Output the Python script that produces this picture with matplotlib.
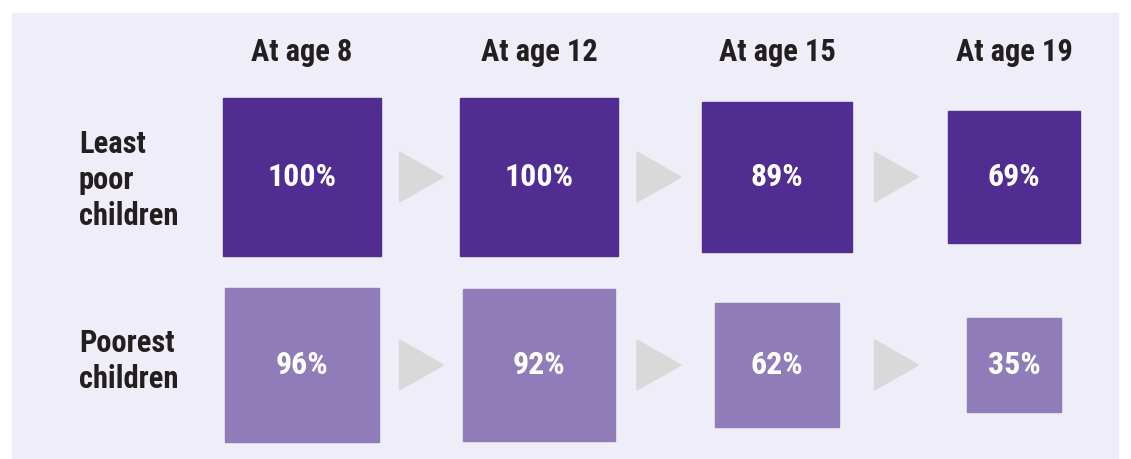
import matplotlib
matplotlib.use('Agg')
import matplotlib.pyplot as plt
from matplotlib.patches import Rectangle, Polygon
import numpy as np

# data
ages = ["At age 8", "At age 12", "At age 15", "At age 19"]
groups = ["Least\npoor\nchildren", "Poorest\nchildren"]
least_poor = [100, 100, 89, 69]
poorest = [96, 92, 62, 35]

colors = ["#512d91", "#8f7cb8"]
bg = "#efedf8"
arrow_col = "#d9d9d9"
FONT = ["Roboto Condensed", "Archivo Narrow", "Liberation Sans", "DejaVu Sans"]

W, H = 1131, 459
fig = plt.figure(figsize=(W / 100, H / 100), dpi=100)
ax = fig.add_axes([0, 0, 1, 1])
ax.set_xlim(0, W)
ax.set_ylim(H, 0)
ax.axis('off')

# panel background
ax.add_patch(Rectangle((12, 13), 1106, 450, color=bg, zorder=0))

col_x = [302, 539, 777, 1014]
row_y = [177, 365]
label_y = [180, 361]
max_side = 158

for cx, lab in zip(col_x, ages):
    ax.text(cx, 52, lab, ha='center', va='center', fontsize=22,
            fontweight='bold', color='#231f20', family=FONT)

for ry, ly, grp, vals, c in zip(row_y, label_y, groups, [least_poor, poorest], colors):
    ax.text(79, ly, grp, ha='left', va='center', fontsize=22,
            fontweight='bold', color='#231f20', family=FONT, linespacing=1.27)
    for i, (cx, v) in enumerate(zip(col_x, vals)):
        s = max_side * np.sqrt(v / 100)
        ax.add_patch(Rectangle((cx - s / 2, ry - s / 2), s, s, color=c, zorder=2))
        ax.text(cx, ry, f"{v}%", ha='center', va='center', fontsize=23,
                fontweight='bold', color='white', family=FONT, zorder=3)
        if i < 3:
            ax0 = (cx + col_x[i + 1]) / 2 - 21
            ax.add_patch(Polygon([[ax0, ry - 25], [ax0, ry + 25], [ax0 + 44, ry]],
                                 closed=True, color=arrow_col, zorder=1))

fig.savefig("out.png", dpi=100)
